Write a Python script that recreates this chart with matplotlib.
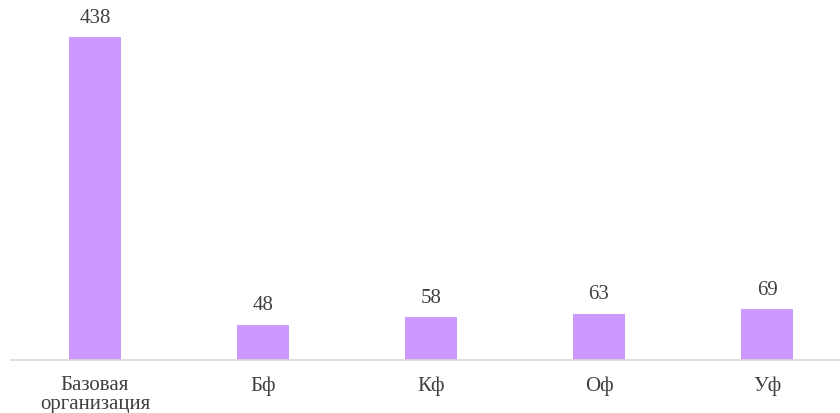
import matplotlib.pyplot as plt

categories = ['Базовая\nорганизация', 'Бф', 'Кф', 'Оф', 'Уф']
values = [438, 48, 58, 63, 69]

plt.rcParams['font.family'] = ['Liberation Serif', 'DejaVu Serif']

fig = plt.figure(figsize=(8.4, 4.14), dpi=100)
ax = fig.add_axes([11 / 840, 53 / 414, 840 / 840, 361 / 414])

x = range(len(categories))
bars = ax.bar(x, values, width=0.31, color='#CC99FF')

for xi, v in zip(x, values):
    ax.text(xi, v + 14, str(v), ha='center', va='bottom', fontsize=15, color='#404040')

ax.set_xlim(-0.5, 4.5)
ax.set_ylim(0, 490)
ax.set_xticks(list(x))
ax.set_xticklabels(categories, fontsize=15, color='#404040', linespacing=1.0)
ax.tick_params(axis='x', length=0, pad=11)
ax.set_yticks([])
for side in ['top', 'right', 'left']:
    ax.spines[side].set_visible(False)
ax.spines['bottom'].set_color('#D9D9D9')
ax.spines['bottom'].set_linewidth(1.2)

fig.savefig('out.png', dpi=100)
